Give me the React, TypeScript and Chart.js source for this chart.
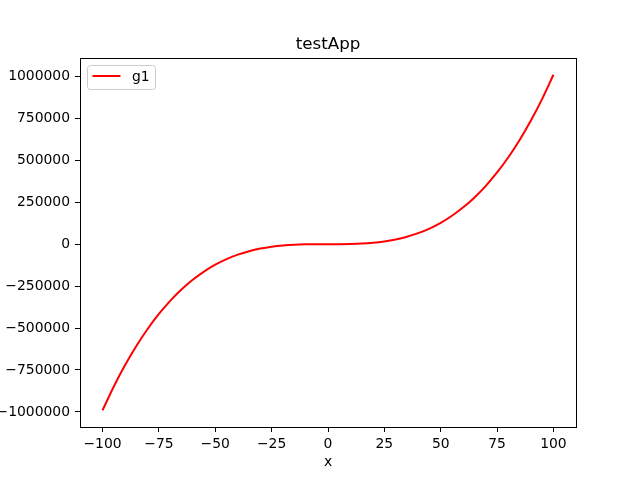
import React, { useEffect, useRef } from "react";
import { Chart, registerables } from "chart.js";

Chart.register(...registerables);

const chartTitle = "testApp";
const xAxisLabel = "x";
const seriesName = "g1";

const xValues = [
  -100, -95, -90, -85, -80, -75, -70, -65, -60, -55, -50, -45, -40, -35, -30, -25, -20, -15, -10, -5,
  0, 5, 10, 15, 20, 25, 30, 35, 40, 45, 50, 55, 60, 65, 70, 75, 80, 85, 90, 95, 100,
];
const g1Values = [
  -990000, -848350, -720900, -606900, -505600, -416250, -338100, -270400, -212400, -163350,
  -122500, -89100, -62400, -41650, -26100, -15000, -7600, -3150, -900, -100,
  0, 150, 1100, 3600, 8400, 16250, 27900, 44100, 65600, 93150,
  127500, 169400, 219600, 278850, 347900, 427500, 518400, 621350, 737100, 866400, 1010000,
];
const xTicks = [-100, -75, -50, -25, 0, 25, 50, 75, 100];
const yTicks = [-1000000, -750000, -500000, -250000, 0, 250000, 500000, 750000, 1000000];

const FONT = "'DejaVu Sans', sans-serif";
const fmt = (v: number) => String(v).replace("-", "\u2212");

const decorPlugin = {
  id: "decor",
  afterDraw(chart: any) {
    const { ctx, chartArea } = chart;
    const { left, right, top, bottom } = chartArea;
    ctx.save();
    // frame (spines)
    ctx.strokeStyle = "#000";
    ctx.lineWidth = 1;
    ctx.strokeRect(Math.round(left) + 0.5, Math.round(top) + 0.5, Math.round(right - left), Math.round(bottom - top));
    // title
    ctx.fillStyle = "#000";
    ctx.font = `16.7px ${FONT}`;
    ctx.textAlign = "center";
    ctx.textBaseline = "alphabetic";
    ctx.fillText(chartTitle, (left + right) / 2, 49);
    // x label
    ctx.font = `13.9px ${FONT}`;
    ctx.fillText(xAxisLabel, (left + right) / 2, 466);
    // legend
    const lx = Math.round(left) + 7.5, ly = Math.round(top) + 7.5, lw = 68, lh = 24, r = 3;
    ctx.beginPath();
    ctx.moveTo(lx + r, ly);
    ctx.arcTo(lx + lw, ly, lx + lw, ly + lh, r);
    ctx.arcTo(lx + lw, ly + lh, lx, ly + lh, r);
    ctx.arcTo(lx, ly + lh, lx, ly, r);
    ctx.arcTo(lx, ly, lx + lw, ly, r);
    ctx.closePath();
    ctx.fillStyle = "rgba(255,255,255,0.8)";
    ctx.fill();
    ctx.strokeStyle = "#cccccc";
    ctx.lineWidth = 1;
    ctx.stroke();
    ctx.beginPath();
    ctx.moveTo(lx + 5, 76);
    ctx.lineTo(lx + 33, 76);
    ctx.strokeStyle = "#ff0000";
    ctx.lineWidth = 2;
    ctx.stroke();
    ctx.fillStyle = "#000";
    ctx.textAlign = "left";
    ctx.textBaseline = "alphabetic";
    ctx.fillText(seriesName, lx + 44.5, 81);
    ctx.restore();
  },
};

export default function App() {
  const ref = useRef<HTMLCanvasElement | null>(null);
  useEffect(() => {
    if (!ref.current) return;
    const chart = new Chart(ref.current, {
      type: "line",
      data: {
        datasets: [
          {
            label: seriesName,
            data: xValues.map((x, i) => ({ x, y: g1Values[i] })),
            borderColor: "#ff0000",
            borderWidth: 2,
            pointRadius: 0,
            fill: false,
            cubicInterpolationMode: "monotone",
          },
        ],
      },
      options: {
        animation: false,
        responsive: false,
        maintainAspectRatio: false,
        layout: { padding: { left: 0, right: 64, top: 58, bottom: 0 } },
        plugins: { legend: { display: false }, title: { display: false }, tooltip: { enabled: false } },
        scales: {
          x: {
            type: "linear",
            min: -110,
            max: 110,
            afterFit: (s: any) => { s.height = 53; },
            afterBuildTicks: (s: any) => { s.ticks = xTicks.map((v) => ({ value: v })); },
            grid: { display: true, drawOnChartArea: false, drawTicks: true, tickLength: 5, color: "#000", lineWidth: 1 },
            border: { display: false },
            ticks: { color: "#000", padding: 4, font: { family: FONT, size: 13.9 }, callback: (v: any) => fmt(Number(v)), maxRotation: 0, autoSkip: false },
          },
          y: {
            type: "linear",
            min: -1090000,
            max: 1110000,
            afterFit: (s: any) => { s.width = 80; },
            afterBuildTicks: (s: any) => { s.ticks = yTicks.map((v) => ({ value: v })); },
            grid: { display: true, drawOnChartArea: false, drawTicks: true, tickLength: 5, color: "#000", lineWidth: 1 },
            border: { display: false },
            ticks: { color: "#000", padding: 5, font: { family: FONT, size: 13.9 }, callback: (v: any) => fmt(Number(v)), autoSkip: false },
          },
        },
      },
      plugins: [decorPlugin],
    } as any);
    return () => chart.destroy();
  }, []);
  return (
    <div style={{ position: "absolute", left: 0, top: 0, width: 640, height: 480, background: "#fff" }}>
      <canvas ref={ref} width={640} height={480} style={{ width: 640, height: 480 }} />
    </div>
  );
}
